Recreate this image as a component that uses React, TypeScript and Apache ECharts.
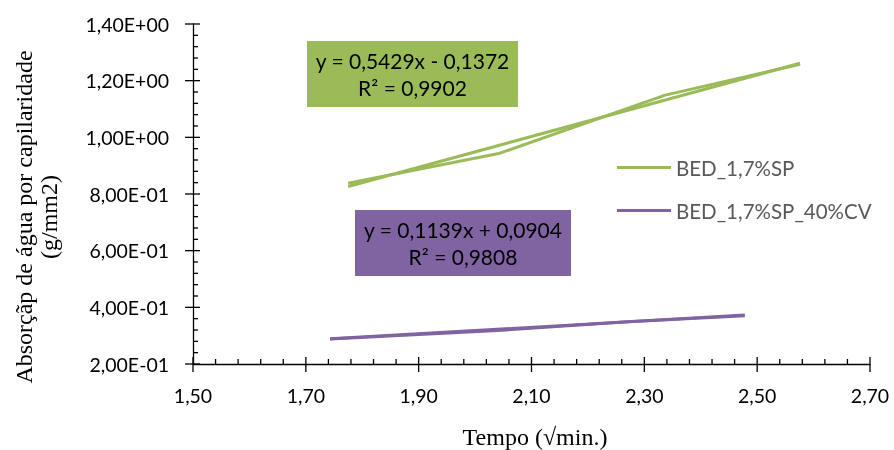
import React, { useEffect, useRef } from "react";
import * as echarts from "echarts";

const seriesNames = ["BED_1,7%SP", "BED_1,7%SP_40%CV"];
const greenX = [1.775, 2.044, 2.337, 2.576];
const greenY = [0.838, 0.944, 1.149, 1.258];
const purpleX = [1.743, 2.04, 2.27, 2.478];
const purpleY = [0.288, 0.318, 0.349, 0.37];
// trendline end points
const greenTrendX = [1.775, 2.576];
const greenTrendY = [0.8265, 1.2613];
const purpleTrendX = [1.743, 2.478];
const purpleTrendY = [0.2889, 0.3726];
const greenEq = ["y = 0,5429x - 0,1372", "R² = 0,9902"];
const purpleEq = ["y = 0,1139x + 0,0904", "R² = 0,9808"];
const xTitle = "Tempo (√min.)";
const yTitle = ["Absorçãp de água por capilaridade", "(g/mm2)"];

const X_MIN = 1.5, X_MAX = 2.7, X_STEP = 0.2;
const Y_MIN = 0.2, Y_MAX = 1.4, Y_STEP = 0.2;
const MINOR_SPLIT = 5;

const GREEN = "#9BBB59";
const PURPLE = "#8064A2";
const SANS = "Lato, 'Open Sans', sans-serif";
const SERIF = "'Liberation Serif', 'DejaVu Serif', serif";

const zip = (xs: number[], ys: number[]) => xs.map((x, i) => [x, ys[i]]);

const fmtX = (v: number) => v.toFixed(2).replace(".", ",");
const fmtY = (v: number) => {
  if (Math.abs(v) < 1e-12) return "0,00E+00";
  let e = Math.floor(Math.log10(Math.abs(v)) + 1e-9);
  let ms = (v / Math.pow(10, e)).toFixed(2);
  if (parseFloat(ms) >= 10) {
    e += 1;
    ms = (v / Math.pow(10, e)).toFixed(2);
  }
  const es = (e < 0 ? "-" : "+") + String(Math.abs(e)).padStart(2, "0");
  return ms.replace(".", ",") + "E" + es;
};

// tick marks (axis decoration): [value, isMajor]
const tickMarks = (min: number, max: number, step: number) => {
  const out: number[][] = [];
  const n = Math.round((max - min) / step) * MINOR_SPLIT;
  for (let i = 0; i <= n; i++) out.push([min + (i * step) / MINOR_SPLIT, i % MINOR_SPLIT === 0 ? 1 : 0]);
  return out;
};

export default function App() {
  const ref = useRef<HTMLDivElement>(null);
  useEffect(() => {
    if (!ref.current) return;
    const chart = echarts.init(ref.current, undefined, { renderer: "svg" });
    const lineSeries = (name: string, data: number[][], color: string) => ({
      name,
      type: "line",
      data,
      showSymbol: false,
      symbol: "none",
      lineStyle: { color, width: 3 },
      itemStyle: { color },
      z: 3,
    });
    const trendSeries = (data: number[][], color: string) => ({
      type: "line",
      data,
      showSymbol: false,
      symbol: "none",
      lineStyle: { color, width: 3 },
      itemStyle: { color },
      z: 2,
      silent: true,
    });
    const tickStroke = { stroke: "#000", lineWidth: 1.3 };
    const xTicksSeries = {
      type: "custom",
      silent: true,
      clip: false,
      z: 5,
      data: tickMarks(X_MIN, X_MAX, X_STEP).map(([v, m]) => [v, Y_MIN, m]),
      renderItem: (_p: any, api: any) => {
        const pt = api.coord([api.value(0), api.value(1)]);
        const major = api.value(2) === 1;
        return {
          type: "line",
          shape: { x1: pt[0], y1: pt[1] - (major ? 7 : 5), x2: pt[0], y2: pt[1] + (major ? 8 : 0) },
          style: tickStroke,
        };
      },
    };
    const yTicksSeries = {
      type: "custom",
      silent: true,
      clip: false,
      z: 5,
      data: tickMarks(Y_MIN, Y_MAX, Y_STEP).map(([v, m]) => [X_MIN, v, m]),
      renderItem: (_p: any, api: any) => {
        const pt = api.coord([api.value(0), api.value(1)]);
        const major = api.value(2) === 1;
        return {
          type: "line",
          shape: { x1: pt[0] - (major ? 8 : 0), y1: pt[1], x2: pt[0] + (major ? 7 : 5), y2: pt[1] },
          style: tickStroke,
        };
      },
    };
    const box = (x: number, y: number, w: number, h: number, fill: string, lines: string[]) => ({
      type: "group",
      x,
      y,
      children: [
        { type: "rect", shape: { x: 0, y: 0, width: w, height: h }, style: { fill } },
        {
          type: "text",
          x: w / 2,
          y: h / 2,
          style: {
            text: lines.join("\n"),
            fill: "#000",
            font: `21px ${SANS}`,
            lineHeight: 27,
            align: "center",
            verticalAlign: "middle",
          },
        },
      ],
    });
    chart.setOption({
      animation: false,
      grid: { left: 193, right: 24, top: 24, bottom: 86, containLabel: false },
      legend: {
        orient: "vertical",
        left: 612,
        top: 152,
        itemWidth: 54,
        itemHeight: 3,
        itemGap: 22,
        icon: "rect",
        data: seriesNames,
        textStyle: { color: "#595959", fontSize: 20.5, fontFamily: SANS },
      },
      xAxis: {
        type: "value",
        min: X_MIN,
        max: X_MAX,
        interval: X_STEP,
        axisLine: { show: true, onZero: false, lineStyle: { color: "#000", width: 1.3 } },
        axisTick: { show: false },
        axisLabel: { formatter: fmtX, color: "#000", fontSize: 19.5, fontFamily: SANS, margin: 21 },
        splitLine: { show: false },
      },
      yAxis: {
        type: "value",
        min: Y_MIN,
        max: Y_MAX,
        interval: Y_STEP,
        axisLine: { show: true, onZero: false, lineStyle: { color: "#000", width: 1.3 } },
        axisTick: { show: false },
        axisLabel: { formatter: fmtY, color: "#000", fontSize: 19.5, fontFamily: SANS, margin: 24 },
        splitLine: { show: false },
      },
      series: [
        lineSeries(seriesNames[0], zip(greenX, greenY), GREEN),
        lineSeries(seriesNames[1], zip(purpleX, purpleY), PURPLE),
        trendSeries(zip(greenTrendX, greenTrendY), GREEN),
        trendSeries(zip(purpleTrendX, purpleTrendY), PURPLE),
        xTicksSeries,
        yTicksSeries,
      ],
      graphic: [
        box(307, 41, 211, 66, GREEN, greenEq),
        box(355, 210, 216, 66, PURPLE, purpleEq),
        {
          type: "text",
          x: 535,
          y: 437,
          style: { text: xTitle, fill: "#000", font: `24px ${SERIF}`, align: "center", verticalAlign: "middle" },
        },
        {
          type: "text",
          x: 36.5,
          y: 217,
          rotation: Math.PI / 2,
          style: {
            text: yTitle.join("\n"),
            fill: "#000",
            font: `24px ${SERIF}`,
            lineHeight: 25,
            align: "center",
            verticalAlign: "middle",
          },
        },
      ],
    });
    return () => chart.dispose();
  }, []);
  return (
    <div
      ref={ref}
      style={{ position: "fixed", left: 0, top: 0, width: 894, height: 450 }}
    />
  );
}
